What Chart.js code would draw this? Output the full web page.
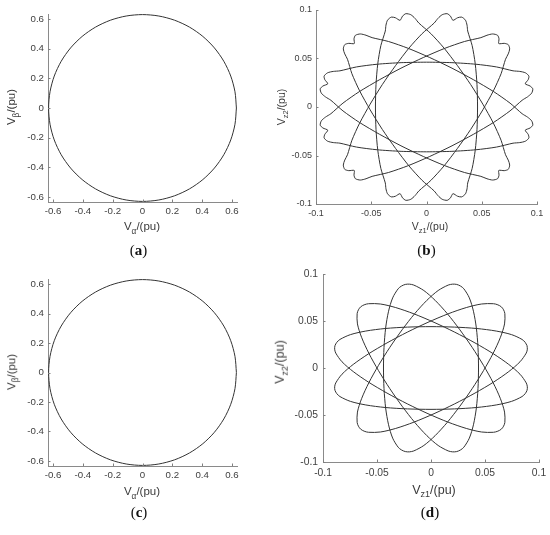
<!DOCTYPE html>
<html><head><meta charset="utf-8">
<script src="https://cdn.jsdelivr.net/npm/chart.js@4.4.0/dist/chart.umd.min.js"></script>
<style>
body{margin:0;background:#fff;width:550px;height:535px;position:relative;overflow:hidden;font-family:"Liberation Sans",Arial,sans-serif}
canvas{position:absolute}
.t{position:absolute;color:#3a3a3a;white-space:nowrap;transform:translate(-50%,-50%);line-height:1}
.ty{transform:translate(-50%,-50%) rotate(-90deg)}
.t sub{font-size:72%;vertical-align:-0.4em;line-height:0}
.cap{position:absolute;font-family:"Liberation Serif","Times New Roman",serif;font-size:15px;color:#111;transform:translate(-50%,-50%);line-height:1}
</style></head><body>
<canvas id="ca" width="250" height="225" style="left:0;top:0"></canvas>
<canvas id="cb" width="285" height="225" style="left:265px;top:0"></canvas>
<canvas id="cc" width="250" height="225" style="left:0;top:265px"></canvas>
<canvas id="cd" width="285" height="225" style="left:265px;top:265px"></canvas>

<div class="t" style="left:142px;top:227px;font-size:11.5px">V<sub>α</sub>/(pu)</div>
<div class="t ty" style="left:12px;top:107px;font-size:11.5px">V<sub>β</sub>/(pu)</div>
<div class="t" style="left:430px;top:226px;font-size:10.5px">V<sub>z1</sub>/(pu)</div>
<div class="t ty" style="left:281px;top:107px;font-size:10.5px">V<sub>z2</sub>/(pu)</div>
<div class="t" style="left:142px;top:492px;font-size:11.5px">V<sub>α</sub>/(pu)</div>
<div class="t ty" style="left:12px;top:372px;font-size:11.5px">V<sub>β</sub>/(pu)</div>
<div class="t" style="left:434px;top:490px;font-size:12.5px">V<sub>z1</sub>/(pu)</div>
<div class="t ty" style="left:280px;top:362px;font-size:12.5px">V<sub>z2</sub>/(pu)</div>

<div class="cap" style="left:138.5px;top:250px">(<b>a</b>)</div>
<div class="cap" style="left:426.5px;top:250px">(<b>b</b>)</div>
<div class="cap" style="left:139px;top:512px">(<b>c</b>)</div>
<div class="cap" style="left:430px;top:512px">(<b>d</b>)</div>

<script>
// ---- data ----
const circleX = [0.63,0.6204,0.592,0.5456,0.4826,0.405,0.315,0.2155,0.1094,0,-0.1094,-0.2155,-0.315,-0.405,-0.4826,-0.5456,-0.592,-0.6204,-0.63,-0.6204,-0.592,-0.5456,-0.4826,-0.405,-0.315,-0.2155,-0.1094,0,0.1094,0.2155,0.315,0.405,0.4826,0.5456,0.592,0.6204,0.63];
const circleY = [0,0.1094,0.2155,0.315,0.405,0.4826,0.5456,0.592,0.6204,0.63,0.6204,0.592,0.5456,0.4826,0.405,0.315,0.2155,0.1094,0,-0.1094,-0.2155,-0.315,-0.405,-0.4826,-0.5456,-0.592,-0.6204,-0.63,-0.6204,-0.592,-0.5456,-0.4826,-0.405,-0.315,-0.2155,-0.1094,0];

// (b) z1-z2 trajectory (lobe tips with a small notch)
const trajB = [
[0.09141,0.01041],[0.09514,0.01422],[0.09620,0.01870],[0.09373,0.02164],[0.08935,0.02394],[0.09200,0.02813],[0.09266,0.03191],[0.08951,0.03526],[0.08437,0.03669],
[0.0783,0.0373],[0.0634,0.0413],[0.0446,0.0441],[0.0230,0.0457],[0,0.0462],[-0.0230,0.0457],[-0.0446,0.0441],[-0.0634,0.0413],[-0.0783,0.0373],
[-0.08437,0.03669],[-0.08951,0.03526],[-0.09266,0.03191],[-0.09200,0.02813],[-0.08935,0.02394],[-0.09373,0.02164],[-0.09620,0.01870],[-0.09514,0.01422],[-0.09141,0.01041],
[-0.0865,0.0069],[-0.0756,-0.0040],[-0.0607,-0.0159],[-0.0427,-0.0280],[-0.0231,-0.0400],[-0.0029,-0.0510],[0.0166,-0.0605],[0.0343,-0.0675],[0.0492,-0.0715],
[0.05472,-0.07396],[0.05989,-0.07529],[0.06429,-0.07396],[0.06561,-0.07036],[0.06541,-0.06541],[0.07036,-0.06561],[0.07396,-0.06429],[0.07529,-0.05989],[0.07396,-0.05472],
[0.0715,-0.0492],[0.0675,-0.0343],[0.0605,-0.0166],[0.0510,0.0029],[0.0400,0.0231],[0.0280,0.0427],[0.0159,0.0607],[0.0040,0.0756],[-0.0069,0.0865],
[-0.01041,0.09141],[-0.01422,0.09514],[-0.01870,0.09620],[-0.02164,0.09373],[-0.02394,0.08935],[-0.02813,0.09200],[-0.03191,0.09266],[-0.03526,0.08951],[-0.03669,0.08437],
[-0.0373,0.0783],[-0.0413,0.0634],[-0.0441,0.0446],[-0.0457,0.0230],[-0.0462,0],[-0.0457,-0.0230],[-0.0441,-0.0446],[-0.0413,-0.0634],[-0.0373,-0.0783],
[-0.03669,-0.08437],[-0.03526,-0.08951],[-0.03191,-0.09266],[-0.02813,-0.09200],[-0.02394,-0.08935],[-0.02164,-0.09373],[-0.01870,-0.09620],[-0.01422,-0.09514],[-0.01041,-0.09141],
[-0.0069,-0.0865],[0.0040,-0.0756],[0.0159,-0.0607],[0.0280,-0.0427],[0.0400,-0.0231],[0.0510,-0.0029],[0.0605,0.0166],[0.0675,0.0343],[0.0715,0.0492],
[0.07396,0.05472],[0.07529,0.05989],[0.07396,0.06429],[0.07036,0.06561],[0.06541,0.06541],[0.06561,0.07036],[0.06429,0.07396],[0.05989,0.07529],[0.05472,0.07396],
[0.0492,0.0715],[0.0343,0.0675],[0.0166,0.0605],[-0.0029,0.0510],[-0.0231,0.0400],[-0.0427,0.0280],[-0.0607,0.0159],[-0.0756,0.0040],[-0.0865,-0.0069],
[-0.09141,-0.01041],[-0.09514,-0.01422],[-0.09620,-0.01870],[-0.09373,-0.02164],[-0.08935,-0.02394],[-0.09200,-0.02813],[-0.09266,-0.03191],[-0.08951,-0.03526],[-0.08437,-0.03669],
[-0.0783,-0.0373],[-0.0634,-0.0413],[-0.0446,-0.0441],[-0.0230,-0.0457],[0,-0.0462],[0.0230,-0.0457],[0.0446,-0.0441],[0.0634,-0.0413],[0.0783,-0.0373],
[0.08437,-0.03669],[0.08951,-0.03526],[0.09266,-0.03191],[0.09200,-0.02813],[0.08935,-0.02394],[0.09373,-0.02164],[0.09620,-0.01870],[0.09514,-0.01422],[0.09141,-0.01041],
[0.0865,-0.0069],[0.0756,0.0040],[0.0607,0.0159],[0.0427,0.0280],[0.0231,0.0400],[0.0029,0.0510],[-0.0166,0.0605],[-0.0343,0.0675],[-0.0492,0.0715],
[-0.05472,0.07396],[-0.05989,0.07529],[-0.06429,0.07396],[-0.06561,0.07036],[-0.06541,0.06541],[-0.07036,0.06561],[-0.07396,0.06429],[-0.07529,0.05989],[-0.07396,0.05472],
[-0.0715,0.0492],[-0.0675,0.0343],[-0.0605,0.0166],[-0.0510,-0.0029],[-0.0400,-0.0231],[-0.0280,-0.0427],[-0.0159,-0.0607],[-0.0040,-0.0756],[0.0069,-0.0865],
[0.01041,-0.09141],[0.01422,-0.09514],[0.01870,-0.09620],[0.02164,-0.09373],[0.02394,-0.08935],[0.02813,-0.09200],[0.03191,-0.09266],[0.03526,-0.08951],[0.03669,-0.08437],
[0.0373,-0.0783],[0.0413,-0.0634],[0.0441,-0.0446],[0.0457,-0.0230],[0.0462,0],[0.0457,0.0230],[0.0441,0.0446],[0.0413,0.0634],[0.0373,0.0783],
[0.03669,0.08437],[0.03526,0.08951],[0.03191,0.09266],[0.02813,0.09200],[0.02394,0.08935],[0.02164,0.09373],[0.01870,0.09620],[0.01422,0.09514],[0.01041,0.09141],
[0.0069,0.0865],[-0.0040,0.0756],[-0.0159,0.0607],[-0.0280,0.0427],[-0.0400,0.0231],[-0.0510,0.0029],[-0.0605,-0.0166],[-0.0675,-0.0343],[-0.0715,-0.0492],
[-0.07396,-0.05472],[-0.07529,-0.05989],[-0.07396,-0.06429],[-0.07036,-0.06561],[-0.06541,-0.06541],[-0.06561,-0.07036],[-0.06429,-0.07396],[-0.05989,-0.07529],[-0.05472,-0.07396],
[-0.0492,-0.0715],[-0.0343,-0.0675],[-0.0166,-0.0605],[0.0029,-0.0510],[0.0231,-0.0400],[0.0427,-0.0280],[0.0607,-0.0159],[0.0756,-0.0040],[0.0865,0.0069],
[0.09141,0.01041]
];

// (d) z1-z2 trajectory
const trajD = [
[0.0889,0.0238],[0.0872,0.0273],[0.0843,0.0304],[0.0746,0.0355],[0.0604,0.0393],[0.0425,0.0420],[0.0219,0.0435],[0,0.0440],[-0.0219,0.0435],[-0.0425,0.0420],[-0.0604,0.0393],[-0.0746,0.0355],[-0.0843,0.0304],[-0.0872,0.0273],
[-0.0889,0.0238],[-0.0892,0.0200],[-0.0882,0.0159],[-0.0824,0.0066],[-0.0720,-0.0038],[-0.0578,-0.0151],[-0.0407,-0.0267],[-0.0220,-0.0381],[-0.0028,-0.0486],[0.0158,-0.0576],[0.0327,-0.0643],[0.0469,-0.0681],[0.0578,-0.0684],[0.0619,-0.0672],
[0.0651,-0.0651],[0.0672,-0.0619],[0.0684,-0.0578],[0.0681,-0.0469],[0.0643,-0.0327],[0.0576,-0.0158],[0.0486,0.0028],[0.0381,0.0220],[0.0267,0.0407],[0.0151,0.0578],[0.0038,0.0720],[-0.0066,0.0824],[-0.0159,0.0882],[-0.0200,0.0892],
[-0.0238,0.0889],[-0.0273,0.0872],[-0.0304,0.0843],[-0.0355,0.0746],[-0.0393,0.0604],[-0.0420,0.0425],[-0.0435,0.0219],[-0.0440,0],[-0.0435,-0.0219],[-0.0420,-0.0425],[-0.0393,-0.0604],[-0.0355,-0.0746],[-0.0304,-0.0843],[-0.0273,-0.0872],
[-0.0238,-0.0889],[-0.0200,-0.0892],[-0.0159,-0.0882],[-0.0066,-0.0824],[0.0038,-0.0720],[0.0151,-0.0578],[0.0267,-0.0407],[0.0381,-0.0220],[0.0486,-0.0028],[0.0576,0.0158],[0.0643,0.0327],[0.0681,0.0469],[0.0684,0.0578],[0.0672,0.0619],
[0.0651,0.0651],[0.0619,0.0672],[0.0578,0.0684],[0.0469,0.0681],[0.0327,0.0643],[0.0158,0.0576],[-0.0028,0.0486],[-0.0220,0.0381],[-0.0407,0.0267],[-0.0578,0.0151],[-0.0720,0.0038],[-0.0824,-0.0066],[-0.0882,-0.0159],[-0.0892,-0.0200],
[-0.0889,-0.0238],[-0.0872,-0.0273],[-0.0843,-0.0304],[-0.0746,-0.0355],[-0.0604,-0.0393],[-0.0425,-0.0420],[-0.0219,-0.0435],[0,-0.0440],[0.0219,-0.0435],[0.0425,-0.0420],[0.0604,-0.0393],[0.0746,-0.0355],[0.0843,-0.0304],[0.0872,-0.0273],
[0.0889,-0.0238],[0.0892,-0.0200],[0.0882,-0.0159],[0.0824,-0.0066],[0.0720,0.0038],[0.0578,0.0151],[0.0407,0.0267],[0.0220,0.0381],[0.0028,0.0486],[-0.0158,0.0576],[-0.0327,0.0643],[-0.0469,0.0681],[-0.0578,0.0684],[-0.0619,0.0672],
[-0.0651,0.0651],[-0.0672,0.0619],[-0.0684,0.0578],[-0.0681,0.0469],[-0.0643,0.0327],[-0.0576,0.0158],[-0.0486,-0.0028],[-0.0381,-0.0220],[-0.0267,-0.0407],[-0.0151,-0.0578],[-0.0038,-0.0720],[0.0066,-0.0824],[0.0159,-0.0882],[0.0200,-0.0892],
[0.0238,-0.0889],[0.0273,-0.0872],[0.0304,-0.0843],[0.0355,-0.0746],[0.0393,-0.0604],[0.0420,-0.0425],[0.0435,-0.0219],[0.0440,0],[0.0435,0.0219],[0.0420,0.0425],[0.0393,0.0604],[0.0355,0.0746],[0.0304,0.0843],[0.0273,0.0872],
[0.0238,0.0889],[0.0200,0.0892],[0.0159,0.0882],[0.0066,0.0824],[-0.0038,0.0720],[-0.0151,0.0578],[-0.0267,0.0407],[-0.0381,0.0220],[-0.0486,0.0028],[-0.0576,-0.0158],[-0.0643,-0.0327],[-0.0681,-0.0469],[-0.0684,-0.0578],[-0.0672,-0.0619],
[-0.0651,-0.0651],[-0.0619,-0.0672],[-0.0578,-0.0684],[-0.0469,-0.0681],[-0.0327,-0.0643],[-0.0158,-0.0576],[0.0028,-0.0486],[0.0220,-0.0381],[0.0407,-0.0267],[0.0578,-0.0151],[0.0720,-0.0038],[0.0824,0.0066],[0.0882,0.0159],[0.0892,0.0200],
[0.0889,0.0238]
];

const ticksCircle = [-0.6,-0.4,-0.2,0,0.2,0.4,0.6];
const ticksStar = [-0.1,-0.05,0,0.05,0.1];
const rangeCircle = [-0.634,0.634];
const rangeStar = [-0.1,0.1];

// ---- drawing ----
const inTicks = {
  id:'inTicks',
  afterDraw(chart){
    const {ctx, chartArea:a, scales:{x,y}} = chart;
    ctx.save(); ctx.strokeStyle='#808080'; ctx.lineWidth=1; ctx.beginPath();
    x.ticks.forEach(t=>{const p=Math.round(x.getPixelForValue(t.value))+0.5; ctx.moveTo(p,a.bottom); ctx.lineTo(p,a.bottom-2.5);});
    y.ticks.forEach(t=>{const p=Math.round(y.getPixelForValue(t.value))+0.5; ctx.moveTo(a.left,p); ctx.lineTo(a.left+2.5,p);});
    ctx.stroke(); ctx.restore();
  }
};

function makeChart(id, xs, ys, ticks, range, o){
  const pts = xs.map((v,i)=>({x:v, y:ys[i]}));
  const axis = (isX)=>({
    type:'linear', min:range[0], max:range[1],
    afterBuildTicks:(s)=>{ s.ticks = ticks.map(v=>({value:v})); },
    afterFit:(s)=>{
      if(isX){ s.height=o.xh; s.paddingLeft=0; s.paddingRight=0; }
      else { s.width=o.yw; s.paddingTop=0; s.paddingBottom=0; }
    },
    ticks:{callback:(v)=>String(v), autoSkip:false, maxRotation:0, padding:o.pad,
           color:'#3f3f3f', font:{family:'Liberation Sans', size:o.fs}},
    grid:{display:false, drawTicks:false},
    border:{display:true, color:'#8a8a8a', width:1}
  });
  return new Chart(document.getElementById(id), {
    type:'scatter',
    data:{datasets:[{data:pts, showLine:true, pointRadius:0, borderColor:'#333', borderWidth:1, tension:o.tension, fill:false, clip:4}]},
    options:{
      responsive:false, animation:false, devicePixelRatio:1, events:[],
      layout:{padding:{left:0, top:o.pt, right:o.pr, bottom:0}},
      plugins:{legend:{display:false}, tooltip:{enabled:false}},
      scales:{x:axis(true), y:axis(false)}
    },
    plugins:[inTicks]
  });
}

const bX = trajB.map(p=>p[0]), bY = trajB.map(p=>p[1]);
const dX = trajD.map(p=>p[0]), dY = trajD.map(p=>p[1]);

makeChart('ca', circleX, circleY, ticksCircle, rangeCircle, {yw:48, xh:23, pt:14, pr:13, pad:4, fs:9.7, tension:0.3});
makeChart('cb', bX, bY, ticksStar, rangeStar, {yw:51, xh:21, pt:10, pr:13, pad:4, fs:9, tension:0.25});
makeChart('cc', circleX, circleY, ticksCircle, rangeCircle, {yw:48, xh:24, pt:14, pr:13, pad:4, fs:9.7, tension:0.3});
makeChart('cd', dX, dY, ticksStar, rangeStar, {yw:58, xh:28, pt:9, pr:11, pad:5, fs:10.3, tension:0.3});
</script>
</body></html>
